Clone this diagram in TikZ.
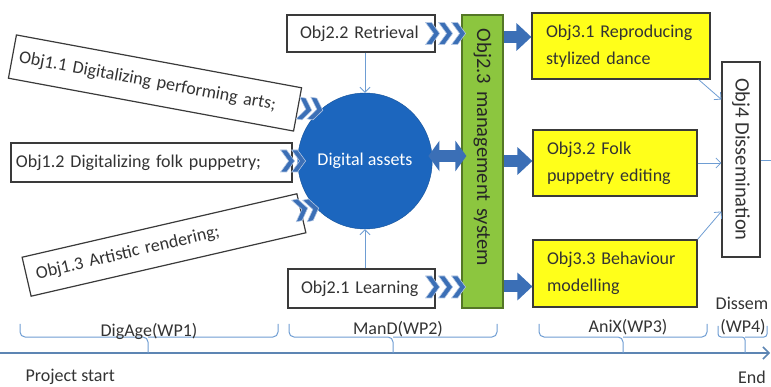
\documentclass[tikz,border=0pt]{standalone}
\usepackage{fontspec}
\setmainfont{Carlito}
\usetikzlibrary{shapes.geometric,arrows.meta,calc}

\definecolor{assetblue}{HTML}{1C66BE}
\definecolor{blkblue}{HTML}{3B6FB6}
\definecolor{thinblue}{HTML}{6E9DD3}
\definecolor{linegray}{HTML}{3A3A3A}
\definecolor{mgmtgreen}{HTML}{8CC63F}
\definecolor{boxyellow}{HTML}{FFFF1A}

\tikzset{
  wbox/.style={draw=linegray,line width=1.2pt,fill=white,align=left,inner ysep=0pt,text=black!80},
  ybox/.style={wbox,fill=boxyellow,minimum height=66pt,inner xsep=14pt,font={\fontsize{18}{27}\selectfont}},
  vbox/.style={wbox,rotate=-90,font={\fontsize{20.5}{24}\selectfont}},
  thin/.style={draw=thinblue,line width=0.8pt,-{Straight Barb[length=5pt,width=10pt]}},
  blk/.style={draw=blkblue,line width=12pt,-{Triangle[length=15pt,width=27pt]}},
  dblk/.style={draw=blkblue,line width=12pt,{Triangle[length=11pt,width=30pt]}-{Triangle[length=11pt,width=30pt]}},
  brc/.style={draw=thinblue,line width=1pt,rounded corners=5pt},
  chev/.pic={\filldraw[fill=blkblue,draw=white!60!blkblue,line width=0.6pt]
    (0,-11) -- (6,-11) -- (14,0) -- (6,11) -- (0,11) -- (8,0) -- cycle;}
}

\begin{document}
\begin{tikzpicture}[x=1pt,y=-1pt,every node/.style={font={\fontsize{18}{26}\selectfont}}]
  \useasboundingbox (0,0) rectangle (771,387);

  \node[wbox,rotate=-10.5,text width=276pt,inner xsep=7pt,minimum height=44pt] (o11) at (155,83) {Obj1.1 Digitalizing performing arts;};
  \node[wbox,text width=271pt,inner xsep=5pt,minimum height=39pt] (o12) at (151.5,162.5) {Obj1.2 Digitalizing folk puppetry;};
  \node[wbox,rotate=13,text width=262pt,inner xsep=10pt,minimum height=40pt] (o13) at (164,245) {Obj1.3 Artistic rendering;};

  \node[ellipse,fill=assetblue,draw=assetblue!80!black,minimum width=126pt,minimum height=136pt,inner sep=0pt,text=white] (assets) at (365,161) {Digital assets};

  \node[wbox,text width=122pt,inner xsep=13pt,minimum height=37pt] (ret) at (361,33.5) {Obj2.2 Retrieval};
  \node[wbox,text width=121pt,inner xsep=13pt,minimum height=39pt] (lrn) at (361.5,288.5) {Obj2.1 Learning};
  \node[vbox,fill=mgmtgreen,draw=mgmtgreen!60!black,text width=265pt,inner xsep=14pt,minimum height=41pt,text=black!85] (mgmt) at (482.5,161.5) {Obj2.3 management system};

  \node[ybox,text width=150pt] (a31) at (621,46) {Obj3.1 Reproducing\\stylized dance};
  \node[ybox,text width=136pt] (a32) at (615,163) {Obj3.2 Folk\\puppetry editing};
  \node[ybox,text width=136pt,minimum height=67pt] (a33) at (615,273.5) {Obj3.3 Behaviour\\modelling};
  \node[vbox,align=center,minimum width=195pt,minimum height=38pt,inner xsep=0pt] (dis) at (741,159.5) {Obj4 Dissemination};

  \foreach \i in {0,1} {
    \pic[rotate=-10] at ($(298,108)+(\i*11,0)$) {chev};
    \pic at ($(o12.east)+(\i*11-12,-1.5)$) {chev};
    \pic[rotate=12] at ($(294,211)+(\i*11,0)$) {chev};
  }
  \foreach \i in {0,1,2} {
    \pic at ($(ret.east)+(\i*13-10,0)$) {chev};
    \pic at ($(lrn.east)+(\i*13-10,-1.5)$) {chev};
  }

  \draw[thin] (assets.north |- ret.south) -- (assets.north);
  \draw[thin] (assets.south |- lrn.north) -- (assets.south);

  \coordinate (dbl) at ([shift={(-4pt,5pt)}]assets.east);
  \draw[dblk] (dbl) -- ([xshift=5pt]dbl -| mgmt.south);
  \coordinate (r1) at ([yshift=9pt]a31.west);
  \coordinate (r2) at ([yshift=2pt]a32.west);
  \coordinate (r3) at ([yshift=-13pt]a33.west);
  \draw[blk] (mgmt.north |- r1) -- (r1);
  \draw[blk] (mgmt.north |- r2) -- (r2);
  \draw[blk] (mgmt.north |- r3) -- (r3);

  \draw[thin] ([xshift=-12pt]a31.south east) -- ([yshift=60pt]dis.south);
  \draw[thin] (a32.east) -- (dis.south |- a32.east);
  \draw[thin] (a33.north east) -- ([yshift=-52pt]dis.south);
  \coordinate (out) at (771,160);
  \draw[draw=thinblue,line width=0.8pt] (dis.north |- out) -- (out);

  \coordinate (tstart) at (0,353);
  \coordinate (tend) at (770,353);
  \draw[draw=thinblue!85!black,line width=1.5pt,-{Straight Barb[length=6pt,width=12pt]}] (tstart) -- (tend);

  \draw[brc] (20,324) |- (148,337) -- (148,353) (148,337) -| (278,324);
  \draw[brc] (289,324) |- (393,337) -- (393,353) (393,337) -| (497,324);
  \draw[brc] (539,324) |- (623,337) -- (623,353) (623,337) -| (707,324);
  \draw[brc,rounded corners=3pt] (718,326) |- (745,337) -- (745,353) (745,337) -| (767,326);

  \node[text=black!80] (wp1) at (149,331) {DigAge(WP1)};
  \node[text=black!80] (wp2) at (398,329) {ManD(WP2)};
  \node[text=black!80] (wp3) at (628,327) {AniX(WP3)};
  \node[text=black!80] (wp4a) at (742,303) {Dissem};
  \node[text=black!80] (wp4b) at (743,327) {(WP4)};
  \node[text=black!80,anchor=west] (start) at (22,377) {Project start};
  \node[text=black!80] (end) at (752,377) {End};
\end{tikzpicture}
\end{document}
